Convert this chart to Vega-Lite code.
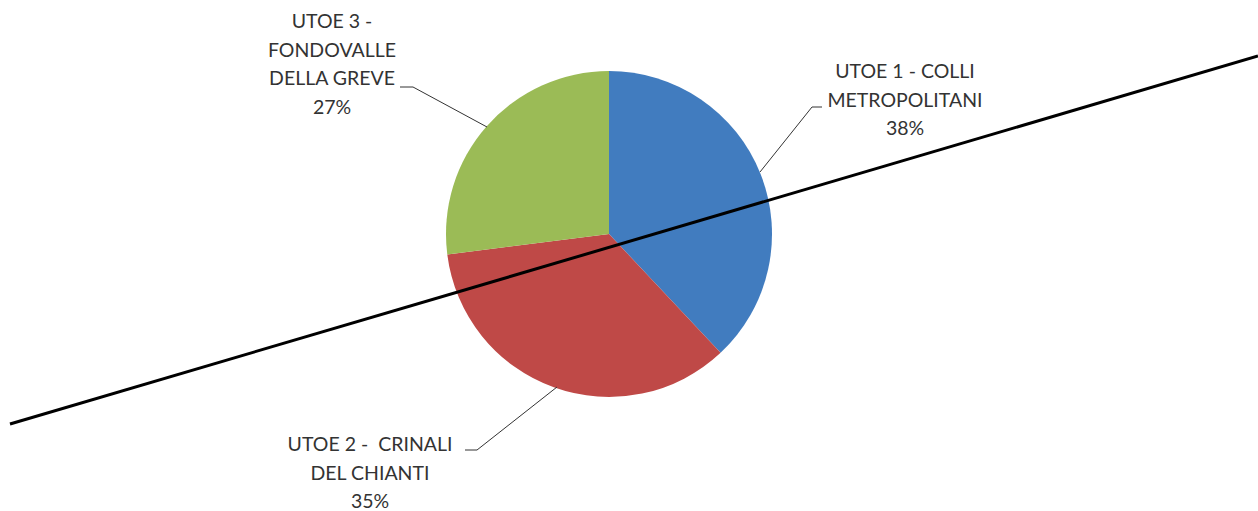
{
  "$schema": "https://vega.github.io/schema/vega-lite/v6.json",
  "autosize": {"type": "none"},
  "width": 1218,
  "height": 468,
  "padding": {"left": 0, "top": 0, "right": 40, "bottom": 43},
  "background": "white",
  "config": {"view": {"stroke": null}},
  "datasets": {
    "slices": [
      {"categoria": "UTOE 1 - COLLI METROPOLITANI", "quota": 38},
      {"categoria": "UTOE 2 - CRINALI DEL CHIANTI", "quota": 35},
      {"categoria": "UTOE 3 - FONDOVALLE DELLA GREVE", "quota": 27}
    ],
    "trend": [
      {"x": 10, "y": 424},
      {"x": 1258, "y": 56}
    ],
    "leaders": [
      {"g": 1, "o": 1, "x": 760, "y": 172},
      {"g": 1, "o": 2, "x": 812, "y": 107},
      {"g": 1, "o": 3, "x": 822, "y": 107},
      {"g": 2, "o": 1, "x": 557, "y": 387},
      {"g": 2, "o": 2, "x": 477, "y": 450},
      {"g": 2, "o": 3, "x": 465, "y": 450},
      {"g": 3, "o": 1, "x": 487, "y": 127},
      {"g": 3, "o": 2, "x": 413, "y": 87},
      {"g": 3, "o": 3, "x": 400, "y": 87}
    ],
    "labels": [
      {"testo": "UTOE 1 - COLLI\nMETROPOLITANI\n38%", "x": 905, "y": 72},
      {"testo": "UTOE 2 - \u00a0CRINALI\nDEL CHIANTI\n35%", "x": 370, "y": 445},
      {"testo": "UTOE 3 -\nFONDOVALLE\nDELLA GREVE\n27%", "x": 332, "y": 22}
    ]
  },
  "layer": [
    {
      "data": {"name": "slices"},
      "mark": {"type": "arc", "outerRadius": 163},
      "encoding": {
        "theta": {"field": "quota", "type": "quantitative", "stack": true},
        "order": {"field": "categoria", "sort": "ascending"},
        "color": {
          "field": "categoria",
          "type": "nominal",
          "legend": null,
          "scale": {"range": ["#417CBF", "#BF4947", "#9BBB56"]}
        }
      }
    },
    {
      "data": {"name": "leaders"},
      "mark": {"type": "line", "stroke": "#333333", "strokeWidth": 1, "clip": false},
      "encoding": {
        "x": {"field": "x", "type": "quantitative", "scale": {"domain": [0, 1218], "nice": false, "zero": false}, "axis": null},
        "y": {"field": "y", "type": "quantitative", "scale": {"domain": [0, 468], "reverse": true, "nice": false, "zero": false}, "axis": null},
        "detail": {"field": "g"},
        "order": {"field": "o"}
      }
    },
    {
      "data": {"name": "trend"},
      "mark": {"type": "line", "stroke": "#000000", "strokeWidth": 3, "clip": false},
      "encoding": {
        "x": {"field": "x", "type": "quantitative", "scale": {"domain": [0, 1218], "nice": false, "zero": false}, "axis": null},
        "y": {"field": "y", "type": "quantitative", "scale": {"domain": [0, 468], "reverse": true, "nice": false, "zero": false}, "axis": null}
      }
    },
    {
      "data": {"name": "labels"},
      "mark": {
        "type": "text",
        "font": "Lato",
        "fontSize": 19.5,
        "fill": "#333333",
        "align": "center",
        "baseline": "middle",
        "lineBreak": "\n",
        "lineHeight": 28.5,
        "clip": false
      },
      "encoding": {
        "x": {"field": "x", "type": "quantitative", "scale": {"domain": [0, 1218], "nice": false, "zero": false}, "axis": null},
        "y": {"field": "y", "type": "quantitative", "scale": {"domain": [0, 468], "reverse": true, "nice": false, "zero": false}, "axis": null},
        "text": {"field": "testo", "type": "nominal"}
      }
    }
  ]
}
